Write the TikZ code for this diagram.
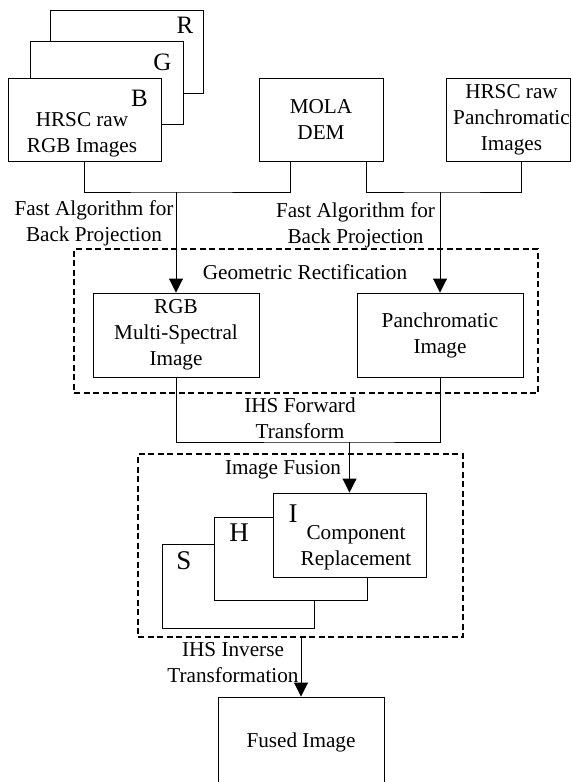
\documentclass[tikz,border=0pt]{standalone}
\usepackage{fontspec}
\setmainfont{Liberation Serif}
\usetikzlibrary{arrows.meta,calc}
\begin{document}
\begin{tikzpicture}[x=1pt,y=-1pt,
  box/.style={draw, line width=0.9pt, fill=white, inner sep=0pt, align=center, font=\fontsize{21.2}{26}\selectfont},
  txt/.style={inner sep=0pt, align=center, font=\fontsize{21.2}{26}\selectfont},
  bigA/.style={inner sep=0pt, anchor=base, font=\fontsize{25}{30}\selectfont},
  bigB/.style={inner sep=0pt, anchor=base, font=\fontsize{27}{32}\selectfont},
  group/.style={draw, line width=1.4pt, dash pattern=on 6pt off 3.5pt, inner sep=0pt},
  link/.style={line width=0.9pt},
  arr/.style={link, -{Triangle[length=14pt,width=14pt]}}]
\useasboundingbox (0,0) rectangle (571,782);
\clip (0,0) rectangle (571,782);
% dashed groups
\node[group, minimum width=464pt, minimum height=144pt] (geo) at (306,321) {};
\node[group, minimum width=325pt, minimum height=183pt] (fusion) at (300.5,545.5) {};
% stacked RGB input
\node[box, minimum width=153pt, minimum height=83pt] (Rb) at (126.5,51.5) {};
\node[box, minimum width=153pt, minimum height=83pt] (Gb) at (106.5,82.5) {};
\node[box, minimum width=153pt, minimum height=83pt] (Bb) at (84.5,119.5) {};
\node[bigA] (Rl) at (185,33) {R};
\node[bigA] (Gl) at (162.5,70) {G};
\node[bigA] (Bl) at (139.5,106) {B};
\node[txt] (rgbraw) at (82,134.3) {HRSC raw\\RGB Images};
% MOLA
\node[box, minimum width=124pt, minimum height=83pt] (MOLA) at (321,119.5) {MOLA\\DEM};
% pan raw
\node[box, minimum width=124pt, minimum height=83pt] (panraw) at (508,119.5) {};
\node[txt] (panrawt) at (511.5,119.5) {HRSC raw\\Panchromatic\\Images};
% rectified
\node[box, minimum width=166pt, minimum height=84pt] (RGB) at (176,335) {RGB\\Multi-Spectral\\Image};
\node[box, minimum width=166pt, minimum height=84pt] (Pan) at (440,335) {Panchromatic\\Image};
% IHS stack
\node[box, minimum width=152pt, minimum height=84pt] (Sb) at (238,586) {};
\node[box, minimum width=153pt, minimum height=83pt] (Hb) at (290.5,558.5) {};
\node[box, minimum width=153pt, minimum height=84pt] (Ib) at (349.5,535) {};
\node[bigB] (Sl) at (184,569) {S};
\node[bigB] (Hl) at (239,541) {H};
\node[bigB] (Il) at (293,522) {I};
\node[txt] (comp) at (356,547.5) {Component\\Replacement};
% fused
\node[box, minimum width=166pt, minimum height=91pt] (Fused) at (301,742.5) {Fused Image};
% labels
\node[txt] (fa1) at (94,223) {Fast Algorithm for\\Back Projection};
\node[txt] (fa2) at (355.5,225) {Fast Algorithm for\\Back Projection};
\node[txt, anchor=base] (geol) at (305,279.5) {Geometric Rectification};
\node[txt] (ihsf) at (300,418) {IHS Forward\\Transform};
\node[txt, anchor=base] (fusl) at (283,474.5) {Image Fusion};
\node[txt] (ihsi) at (233,663) {IHS Inverse\\Transformation};
% connectors
\coordinate (j1) at (176,192);
\coordinate (j2) at (440,192);
\coordinate (j3) at (349.5,442);
\coordinate (m1) at ($(MOLA.south west)!0.258!(MOLA.south east)$);
\coordinate (m2) at ($(MOLA.south west)!0.863!(MOLA.south east)$);
\coordinate (p1) at ($(panraw.south west)!0.605!(panraw.south east)$);
\draw[link] (Bb.south) |- (j1) -| (m1);
\draw[link] (m2) |- (j2) -| (p1);
\draw[arr] (j1) -- (RGB.north);
\draw[arr] (j2) -- (Pan.north);
\draw[link] (RGB.south) |- (j3) -| (Pan.south);
\draw[arr] (j3) -- (Ib.north);
\draw[arr] (fusion.south -| Fused.north) -- (Fused.north);
\end{tikzpicture}
\end{document}
